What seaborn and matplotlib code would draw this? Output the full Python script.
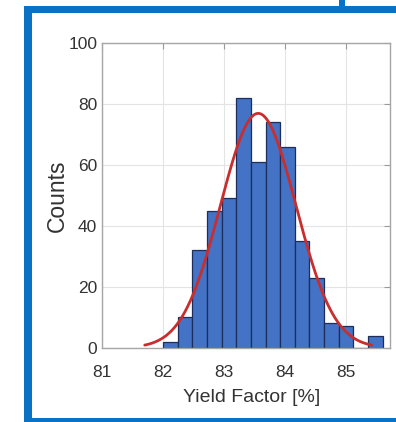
import numpy as np
import pandas as pd
import matplotlib
matplotlib.use("Agg")
import matplotlib.pyplot as plt
from matplotlib.patches import Rectangle
import seaborn as sns

# Histogram of yield factor (bin edges and counts per bin)
bin_edges = [82.00, 82.24, 82.48, 82.72, 82.96, 83.20, 83.44, 83.68,
             83.92, 84.16, 84.40, 84.64, 84.88, 85.12, 85.36, 85.60]
counts = [2, 10, 32, 45, 49, 82, 61, 74, 66, 35, 23, 8, 7, 0, 4]

# Fitted normal distribution
fit_mu = 83.56
fit_sigma = 0.62

x_ticks = [81, 82, 83, 84, 85]
y_ticks = [0, 20, 40, 60, 80, 100]

W, H = 396, 422
sns.set_theme(style="white")
plt.rcParams["font.family"] = ["Liberation Sans", "DejaVu Sans"]

fig = plt.figure(figsize=(W / 100, H / 100), dpi=100)
fig.patch.set_facecolor("white")
ax = fig.add_axes([102 / W, 74.3 / H, 288 / W, 304.7 / H])

edges = np.array(bin_edges)
centers = (edges[:-1] + edges[1:]) / 2
df = pd.DataFrame({"yield": centers, "n": counts})

sns.histplot(data=df, x="yield", weights="n", bins=list(bin_edges), ax=ax,
             color="#4472C4", edgecolor="#1c2f5c", linewidth=0.9, alpha=1.0,
             zorder=2)

# Scaled normal density over mu +/- 3 sigma
bw = edges[1] - edges[0]
total = sum(counts)
xs = np.linspace(fit_mu - 3 * fit_sigma, fit_mu + 3 * fit_sigma, 300)
ys = total * bw * np.exp(-0.5 * ((xs - fit_mu) / fit_sigma) ** 2) / (fit_sigma * np.sqrt(2 * np.pi))
sns.lineplot(x=xs, y=ys, ax=ax, color="#c92e2e", linewidth=2.0, zorder=3)

ax.set_xlim(81, 85.72)
ax.set_ylim(0, 100)
ax.set_xticks(x_ticks)
ax.set_yticks(y_ticks)
ax.grid(True, color="#e4e4e4", linewidth=0.8, zorder=0)
ax.set_axisbelow(True)
for s in ax.spines.values():
    s.set_color("#a6a6a6")
    s.set_linewidth(1.0)
ax.tick_params(direction="in", top=True, right=True, length=4, width=0.8,
               color="#9a9a9a", labelsize=12.5, labelcolor="#333333")
ax.tick_params(axis="x", pad=12.5)
ax.tick_params(axis="y", pad=3.5)
ax.set_xlabel("Yield Factor [%]", fontsize=14, color="#333333", va="center")
ax.xaxis.set_label_coords(0.52, -0.163, transform=ax.transAxes)
ax.set_ylabel("Counts", fontsize=16.5, color="#333333", va="center")
ax.yaxis.set_label_coords(-0.155, 0.5, transform=ax.transAxes)

# Blue slide frame around the chart
blue = "#0a72c4"
def frame_rect(x0, y0, x1, y1):
    fig.add_artist(Rectangle((x0 / W, 1 - y1 / H), (x1 - x0) / W, (y1 - y0) / H,
                             transform=fig.transFigure, facecolor=blue,
                             edgecolor="none", zorder=10))
frame_rect(23.5, 5.7, 32, 422)
frame_rect(23.5, 5.7, 396, 13)
frame_rect(23.5, 417.5, 396, 422)
frame_rect(339, 0, 345, 6)

fig.savefig("out.png", dpi=100)
